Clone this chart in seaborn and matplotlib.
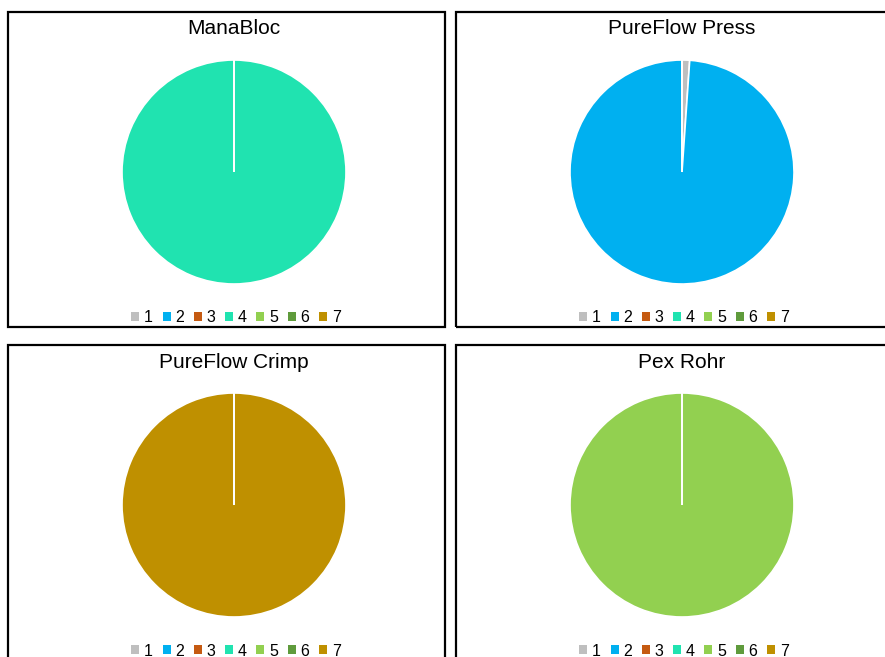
import numpy as np
import matplotlib
matplotlib.use("Agg")
import matplotlib.pyplot as plt
from matplotlib.patches import Rectangle, Patch
import seaborn as sns

# slice labels and colours (Excel-like)
labels = ["1", "2", "3", "4", "5", "6", "7"]
colors = ["#BFBFBF", "#00B0F0", "#C55A11", "#20E3B0", "#92D050", "#5F9B3C", "#BF9000"]

titles = ["ManaBloc", "PureFlow Press", "PureFlow Crimp", "Pex Rohr"]
manabloc = [0, 0, 0, 100, 0, 0, 0]
pureflow_press = [1.1, 98.9, 0, 0, 0, 0, 0]
pureflow_crimp = [0, 0, 0, 0, 0, 0, 100]
pex_rohr = [0, 0, 0, 0, 100, 0, 0]
series = [manabloc, pureflow_press, pureflow_crimp, pex_rohr]

sns.set_style("white")
plt.rcParams['font.family'] = ['Liberation Sans', 'DejaVu Sans']
plt.rcParams['text.color'] = 'black'

W, H = 885, 657
fig = plt.figure(figsize=(W/100, H/100), dpi=100)
palette = sns.color_palette(colors)

# panel geometry in pixels
px0, py0 = 8, 12
pw, ph = 437, 315
dx, dy = 448, 333
r = 112

for i, (title, vals) in enumerate(zip(titles, series)):
    col, row = i % 2, i // 2
    left = px0 + col*dx
    top = py0 + row*dy
    cx = left + 226
    cy = top + 160

    # panel border
    fig.patches.append(Rectangle((left/W, 1 - (top+ph)/H), pw/W, ph/H,
                                 transform=fig.transFigure, fill=False,
                                 edgecolor="black", linewidth=1.6, zorder=0))

    ax = fig.add_axes([(cx - r)/W, 1 - (cy + r)/H, 2*r/W, 2*r/H])
    wedges, _ = ax.pie(vals, colors=palette, startangle=90, counterclock=False,
                       wedgeprops=dict(edgecolor="white", linewidth=1.2))
    # empty slices sit on top so their white edge shows as a line
    for w, v in zip(wedges, vals):
        if v == 0:
            w.set_zorder(3)
    ax.set_xlim(-1, 1)
    ax.set_ylim(-1, 1)
    ax.set_aspect("equal")
    ax.axis("off")

    fig.text(cx/W, 1 - (top + 17)/H, title, ha="center", va="center", fontsize=15)

    handles = [Patch(facecolor=c, edgecolor="none") for c in palette]
    leg = fig.legend(handles, labels, loc="center", ncol=7,
                     bbox_to_anchor=((cx + 2)/W, 1 - (top + 306)/H),
                     frameon=False, fontsize=11.5, handlelength=0.5, handleheight=0.5,
                     handletextpad=0.3, columnspacing=0.6, borderpad=0)
    for t in leg.get_texts():
        t.set_color("black")

fig.savefig("out.png", dpi=100)
